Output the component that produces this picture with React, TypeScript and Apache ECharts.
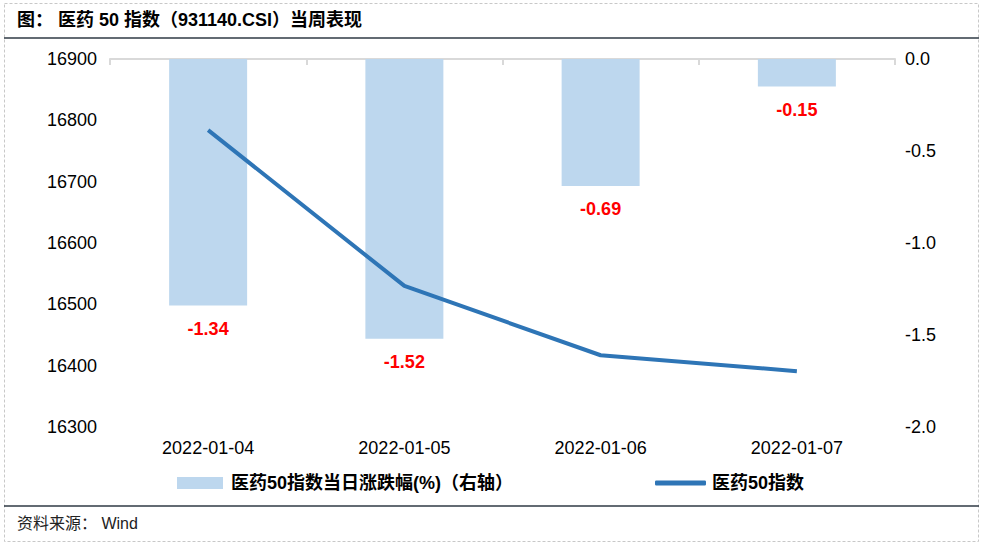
import React, { useEffect, useRef } from "react";
import * as echarts from "echarts";

const categories = ["2022-01-04", "2022-01-05", "2022-01-06", "2022-01-07"];
const changePct = [-1.34, -1.52, -0.69, -0.15];
const indexValues = [16784, 16530, 16417, 16391];
const leftTicks = { min: 16300, max: 16900, interval: 100 };
const rightTicks = { min: -2, max: 0, interval: 0.5 };

const FONT = "'Liberation Sans', Arial, 'Noto Sans CJK SC', sans-serif";

export default function App() {
  const ref = useRef<HTMLDivElement>(null);
  useEffect(() => {
    document.body.style.margin = "0";
    const chart = echarts.init(ref.current!, null, { renderer: "svg" });
    chart.setOption({
      animation: false,
      backgroundColor: "#ffffff",
      textStyle: { fontFamily: FONT },
      grid: { left: 110, right: 88, top: 59, bottom: 119 },
      legend: [
        {
          left: 177,
          top: 474,
          padding: 0,
          itemWidth: 46,
          itemHeight: 12,
          itemGap: 0,
          icon: "rect",
          data: ["医药50指数当日涨跌幅(%)（右轴）"],
          textStyle: { fontSize: 18, fontWeight: "bold", color: "#000", fontFamily: FONT, padding: [0, 0, 0, 3] },
        },
        {
          left: 655,
          top: 474,
          padding: 0,
          itemWidth: 51,
          itemHeight: 5,
          icon: "roundRect",
          data: ["医药50指数"],
          textStyle: { fontSize: 18, fontWeight: "bold", color: "#000", fontFamily: FONT, padding: [0, 0, 0, 1] },
        },
      ],
      xAxis: {
        type: "category",
        data: categories,
        axisLine: { lineStyle: { color: "#d9d9d9", width: 2 } },
        axisTick: { show: true, length: 6, lineStyle: { color: "#d9d9d9", width: 2 } },
        axisLabel: { color: "#000", fontSize: 18, margin: 12, fontFamily: FONT },
      },
      yAxis: [
        {
          type: "value",
          min: leftTicks.min,
          max: leftTicks.max,
          interval: leftTicks.interval,
          splitLine: { show: false },
          axisLine: { show: false },
          axisTick: { show: false },
          axisLabel: {
            color: "#000",
            fontSize: 18,
            margin: 13,
            fontFamily: FONT,
            formatter: (v: number) => String(v),
          },
        },
        {
          type: "value",
          position: "right",
          min: rightTicks.min,
          max: rightTicks.max,
          interval: rightTicks.interval,
          splitLine: { show: false },
          axisLine: { show: false },
          axisTick: { show: false },
          axisLabel: {
            color: "#000",
            fontSize: 18,
            margin: 10,
            fontFamily: FONT,
            formatter: (v: number) => v.toFixed(1),
          },
        },
      ],
      series: [
        {
          name: "医药50指数当日涨跌幅(%)（右轴）",
          type: "bar",
          yAxisIndex: 1,
          data: changePct,
          barWidth: 78,
          itemStyle: { color: "#BDD7EE" },
          label: {
            show: true,
            position: "bottom",
            distance: 14,
            color: "#ff0000",
            fontWeight: "bold",
            fontSize: 18,
            fontFamily: FONT,
            formatter: (p: any) => p.value.toFixed(2),
          },
        },
        {
          name: "医药50指数",
          type: "line",
          yAxisIndex: 0,
          data: indexValues,
          symbol: "none",
          showSymbol: false,
          lineStyle: { color: "#2E75B6", width: 4 },
          itemStyle: { color: "#2E75B6" },
        },
      ],
      graphic: [
        {
          type: "rect",
          shape: { x: 4.5, y: 3.5, width: 974, height: 538 },
          style: { fill: "none", stroke: "#c8c8c8", lineWidth: 1, lineDash: [3, 2] },
          silent: true,
        },
        {
          type: "text",
          left: 17,
          top: 11,
          style: {
            text: "图： 医药 50 指数（931140.CSI）当周表现",
            fontSize: 18,
            fontWeight: "bold",
            fill: "#000",
            fontFamily: FONT,
          },
        },
        {
          type: "line",
          shape: { x1: 4, y1: 38, x2: 979, y2: 38 },
          style: { stroke: "#2f3a44", lineWidth: 1.5 },
        },
        {
          type: "line",
          shape: { x1: 4, y1: 506, x2: 979, y2: 506 },
          style: { stroke: "#2f3a44", lineWidth: 1.5 },
        },
        {
          type: "text",
          left: 17,
          top: 515,
          style: {
            text: "资料来源： Wind",
            fontSize: 16,
            fill: "#222",
            fontFamily: FONT,
          },
        },
      ],
    });
    return () => chart.dispose();
  }, []);
  return <div ref={ref} style={{ width: 983, height: 546 }} />;
}
